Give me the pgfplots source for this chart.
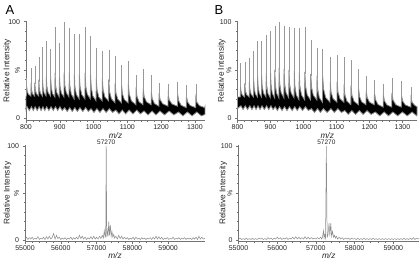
\documentclass[border=0pt]{standalone}
\usepackage{fontspec}
\setmainfont{Liberation Sans}
\usepackage{graphicx}
\usepackage{pgfplots}
\pgfplotsset{compat=1.18}
\pgfplotsset{
  msax/.style={
    scale only axis, anchor=south west,
    axis lines=left,
    axis line style={-, black!55, line width=0.5pt},
    tick align=outside,
    major tick length=2.5pt, minor tick length=1.4pt,
    every tick/.append style={black!55, line width=0.4pt},
    tick label style={font=\fontsize{7}{8}\selectfont, text=black!85},
    xticklabel style={inner sep=1.5pt},
    scaled ticks=false,
    /pgf/number format/assume math mode=true,
    /pgf/number format/1000 sep={},
    label style={font=\fontsize{8.3}{9}\selectfont, text=black!85},
    ytick={0,50,100}, yticklabels={0,{\rotatebox{90}{\%}},100},
    minor y tick num=4, minor x tick num=4,
    ymax=101,
    ylabel={Relative Intensity},
    xlabel={\textit{m/z}},
    xlabel style={at={(axis description cs:0.5,0)}, anchor=center, yshift=-14.5pt},
    clip=false,
  },
  band/.style={fill=black, draw=black!45, line width=0.8pt},
  spk/.style={black!40, line width=0.45pt, unbounded coords=jump},
  noise/.style={black!45, line width=0.5pt, sharp plot},
}
\begin{document}
\begin{tikzpicture}
\path[use as bounding box] (0pt,0pt) rectangle (420pt,262pt);
\node[font=\fontsize{13}{14}\selectfont] at (10pt,252pt) {A};
\node[font=\fontsize{13}{14}\selectfont] at (219pt,252pt) {B};

% ---------------- Top A ----------------
\begin{axis}[msax, at={(26pt,141.3pt)}, width=179pt, height=100pt,
  xmin=800, xmax=1330, ymin=-2.5, xtick={800,900,...,1300},
  ylabel style={at={(axis description cs:-0.1045,0.5)}, anchor=center}]
\addplot[band] coordinates {
(800,22) (801.5,24) (802,33) (803.6,28) (807.2,24.8)
(814.5,23) (815,36) (816.3,29.5) (819.4,25.3)
(825.5,23) (826,37) (827.4,30) (830.8,25.5)
(837.5,23) (838,40) (839.3,31.5) (842.4,26.1)
(848.5,23) (849,42) (850.3,32.5) (853.4,26.4)
(859.5,23) (860,44) (861.6,33.5) (865.2,26.8)
(872.5,23) (873,43) (874.6,32.5) (878.2,25.8)
(885.5,22) (886,47) (887.6,34.5) (891.2,26.5)
(898.5,22) (899,45) (900.7,33.5) (904.6,26.1)
(912.5,22) (913,48) (914.8,35) (919,26.7)
(927.5,22) (928,48) (929.8,34) (934,25)
(942.5,20) (943,46) (944.8,33) (949,24.7)
(957.5,20) (958,46) (960,33) (964.8,24.7)
(974.5,20) (975,47) (976.9,33.5) (981.4,24.9)
(990.5,20) (991,47) (993,32.5) (997.8,23.2)
(1007.5,18) (1008,42) (1010.2,30) (1015.2,22.3)
(1025.5,18) (1026,41) (1028.3,29.5) (1033.6,22.1)
(1044.5,18) (1045,40) (1047.3,28) (1052.6,20.3)
(1063.5,16) (1064,37) (1066.3,26.5) (1071.6,19.8)
(1082.5,16) (1083,35) (1085.4,25.5) (1091,19.4)
(1102.5,16) (1103,36) (1105.8,25) (1112.2,18)
(1125.5,14) (1126,32) (1128.5,23) (1134.4,17.2)
(1146.5,14) (1147,31) (1149.9,22.5) (1156.6,17.1)
(1170.5,14) (1171,28) (1173.8,20.3) (1180.2,15.3)
(1193.5,12.5) (1194,26) (1197.2,19.3) (1204.8,15)
(1220.5,12.5) (1221,25) (1224.4,18.8) (1232.2,14.8)
(1248.5,12.5) (1249,25) (1252.1,18) (1259.4,13.5)
(1274.5,11) (1275,23) (1278.4,17) (1286.2,13.2)
(1302.5,11) (1303,22) (1306.2,16.5) (1313.8,13)
(1329,11) (1330,12)
(1330,4) (1319.2,2.5) (1305.7,6.5) (1291.8,2.5) (1277.8,6.5) (1264.6,2.5) (1251.6,6.5) (1237.8,3.5) (1223.8,7.5) (1210.2,3.5)
(1196.7,7.5) (1184.8,3.5) (1173.3,7.5) (1161.4,3.5) (1149.4,7.5) (1138.6,4.5) (1128.1,8.5) (1116.8,4.5) (1105.3,8.5) (1095,4.5)
(1085,8.5) (1075.4,4.5) (1065.9,8.5) (1056.4,6) (1046.9,10) (1037.4,6) (1027.9,10) (1018.8,6) (1009.8,10) (1001.2,6)
(992.7,10) (984.6,7) (976.6,11) (968.2,7) (959.7,11) (952,7) (944.5,11) (937,7) (929.5,11) (922,7)
(914.5,11) (907.4,8) (900.4,12) (893.8,8) (887.3,12) (880.8,8) (874.3,12) (867.8,8) (861.3,12) (855.6,8)
(850.1,12) (844.6,8) (839.1,12) (833.2,8) (827.2,12) (821.6,8) (816.1,12) (809.8,8) (803.3,12) (800,9)} -- cycle;
\addplot[spk] coordinates {
(802,31) (802,42) (802,nan) (815,34) (815,52) (815,nan) (826,35) (826,54) (826,nan)
(838,38) (838,63) (838,nan) (849,40) (849,74) (849,nan) (860,42) (860,80) (860,nan)
(873,41) (873,72) (873,nan) (886,45) (886,94) (886,nan) (899,43) (899,78) (899,nan)
(913,46) (913,100) (913,nan) (928,46) (928,93) (928,nan) (943,44) (943,87) (943,nan)
(958,44) (958,87) (958,nan) (975,45) (975,94) (975,nan) (991,45) (991,85) (991,nan)
(1008,40) (1008,73) (1008,nan) (1026,39) (1026,70) (1026,nan) (1045,38) (1045,71) (1045,nan)
(1064,35) (1064,64) (1064,nan) (1083,33) (1083,55) (1083,nan) (1103,34) (1103,59) (1103,nan)
(1126,30) (1126,45) (1126,nan) (1147,29) (1147,51) (1147,nan) (1171,26) (1171,45) (1171,nan)
(1194,24) (1194,37) (1194,nan) (1221,23) (1221,35) (1221,nan) (1249,23) (1249,38) (1249,nan)
(1275,21) (1275,34) (1275,nan) (1303,20) (1303,35)};
\end{axis}

% ---------------- Top B ----------------
\begin{axis}[msax, at={(237.5pt,141.3pt)}, width=179.5pt, height=100pt,
  xmin=800, xmax=1344, ymin=-2.5, xtick={800,900,...,1300},
  ylabel style={at={(axis description cs:-0.088,0.5)}, anchor=center}]
\addplot[band] coordinates {
(800,22) (808.5,22) (809,34) (810.6,28) (814.2,24.2)
(821.5,22) (822,36) (823.7,29) (827.6,24.5)
(835.5,22) (836,38) (837.6,30) (841.2,24.9)
(848.5,22) (849,41) (850.4,31.5) (853.8,25.4)
(860.5,22) (861,44) (862.4,33) (865.8,26)
(872.5,22) (873,45) (874.7,33.5) (878.6,26.1)
(886.5,22) (887,47) (888.6,34) (892.2,25.7)
(899.5,21) (900,49) (901.6,35) (905.2,26)
(912.5,21) (913,50) (914.6,35.5) (918.2,26.2)
(925.5,21) (926,52) (927.8,36.5) (932,26.6)
(940.5,21) (941,51) (942.8,36) (947,26.4)
(955.5,21) (956,50) (957.9,35.5) (962.4,26.2)
(971.5,21) (972,49) (973.8,34) (978,24.4)
(986.5,19) (987,48) (989,33.5) (993.8,24.2)
(1003.5,19) (1004,48) (1006.2,33.5) (1011.2,24.2)
(1021.5,19) (1022,46) (1024.3,32.5) (1029.6,23.9)
(1040.5,19) (1041,44) (1043,30.3) (1047.8,21.5)
(1057.5,16.5) (1058,44) (1060.8,30.3) (1067.2,21.5)
(1080.5,16.5) (1081,38) (1083.5,27.3) (1089.4,20.4)
(1101.5,16.5) (1102,38) (1104.5,27.3) (1110.4,20.4)
(1122.5,16.5) (1123,35) (1125.5,24.5) (1131.4,17.8)
(1143.5,14) (1144,34) (1146.8,24) (1153.2,17.6)
(1166.5,14) (1167,31) (1169.8,22.5) (1176.2,17.1)
(1189.5,14) (1190,29) (1193,21.5) (1200,16.7)
(1214.5,14) (1215,27) (1218.2,19.3) (1225.8,14.3)
(1241.5,11.5) (1242,25) (1245.1,18.3) (1252.4,14)
(1267.5,11.5) (1268,26) (1271.5,18.8) (1279.6,14.1)
(1296.5,11.5) (1297,24) (1300.5,17.8) (1308.6,13.8)
(1325.5,11.5) (1326,21) (1329.5,16.3) (1337.6,13.2)
(1344,12)
(1344,3) (1343.4,2.5) (1328.9,6.5) (1314.4,2.5) (1299.9,6.5) (1285.4,2.5) (1270.9,6.5) (1257.6,2.5) (1244.6,6.5) (1231.2,2.5)
(1217.7,6.5) (1205,4) (1192.5,8) (1180.8,4) (1169.3,8) (1157.8,4) (1146.3,8) (1135.6,4) (1125.1,8) (1114.6,6)
(1104.1,10) (1093.6,6) (1083.1,10) (1071.8,6) (1060.3,10) (1051.2,6) (1042.7,10) (1033.4,6) (1023.9,10) (1014.8,8)
(1005.8,12) (997.2,8) (988.7,12) (981,8) (973.5,12) (965.6,8) (957.6,12) (950,8) (942.5,12) (935,8)
(927.5,12) (920.8,8) (914.3,12) (907.8,9) (901.3,13) (894.8,9) (888.3,13) (881.4,9) (874.4,13) (868.2,9)
(862.2,13) (856.2,9) (850.2,13) (843.8,9) (837.3,13) (830.4,9) (823.4,13) (816.8,9) (810.3,13) (800,10)} -- cycle;
\addplot[spk] coordinates {
(809,32) (809,57) (809,nan) (822,34) (822,58) (822,nan) (836,36) (836,62) (836,nan)
(849,39) (849,70) (849,nan) (861,42) (861,79.5) (861,nan) (873,43) (873,79.5) (873,nan)
(887,45) (887,86) (887,nan) (900,47) (900,90.5) (900,nan) (913,48) (913,96) (913,nan)
(926,50) (926,100) (926,nan) (941,49) (941,96) (941,nan) (956,48) (956,94) (956,nan)
(972,47) (972,93) (972,nan) (987,46) (987,93) (987,nan) (1004,46) (1004,94) (1004,nan)
(1022,44) (1022,81) (1022,nan) (1041,42) (1041,72.5) (1041,nan) (1058,42) (1058,72) (1058,nan)
(1081,36) (1081,63) (1081,nan) (1102,36) (1102,66) (1102,nan) (1123,33) (1123,63) (1123,nan)
(1144,32) (1144,60) (1144,nan) (1167,29) (1167,51) (1167,nan) (1190,27) (1190,44) (1190,nan)
(1215,25) (1215,40) (1215,nan) (1242,23) (1242,35) (1242,nan) (1268,24) (1268,42) (1268,nan)
(1297,22) (1297,39) (1297,nan) (1326,19) (1326,32)};
\end{axis}

% ---------------- Bottom A ----------------
\begin{axis}[msax, at={(25pt,20.6pt)}, width=180pt, height=96.3pt,
  xmin=55000, xmax=60030, ymin=-1.5, xtick={55000,56000,...,59000},
  ylabel style={at={(axis description cs:-0.098,0.5)}, anchor=center}]
\addplot[noise] coordinates {
(55000,1) (55040,3) (55080,0.5) (55120,2.5) (55160,1) (55200,3) (55240,0.5) (55280,2) (55320,1) (55360,3.5)
(55400,0.5) (55440,2) (55480,1) (55520,3) (55560,0.5) (55600,3.5) (55640,1) (55680,4) (55720,1) (55760,2.5)
(55800,7) (55840,1) (55880,5) (55920,1.5) (55960,3) (56000,0.5) (56040,2) (56080,1) (56120,2.5) (56160,0.5)
(56200,2) (56240,1) (56280,3) (56320,0.5) (56360,2.5) (56400,1) (56440,3) (56480,1) (56520,5) (56560,1.5)
(56600,4) (56640,1) (56680,3) (56720,0.5) (56760,2.5) (56800,1) (56840,3.5) (56880,1) (56920,4) (56960,1)
(57000,3) (57040,1) (57080,4) (57120,1.5) (57160,5) (57190,2) (57215,10) (57240,3) (57255,5) (57270,100)
(57285,3) (57300,10) (57320,4) (57340,19.5) (57362,5) (57385,16) (57408,4) (57430,9) (57455,3) (57480,6)
(57505,2) (57540,4) (57580,1) (57620,5) (57660,1.5) (57700,4) (57740,1) (57780,3) (57820,1) (57860,2.5)
(57900,0.5) (57940,2) (57980,1) (58020,3) (58060,0.5) (58100,3) (58140,1) (58180,2) (58220,0.5) (58260,2.5)
(58300,1) (58340,2) (58380,0.5) (58420,2) (58460,1) (58500,2.5) (58540,0.5) (58580,3) (58620,1) (58660,4)
(58700,1) (58740,3.5) (58780,1) (58820,3) (58860,0.5) (58900,2) (58940,1) (58980,2.5) (59020,0.5) (59060,2)
(59100,1) (59140,3) (59180,0.5) (59220,2) (59260,1) (59300,2.5) (59340,0.5) (59380,2) (59420,1) (59460,2.5)
(59500,0.5) (59540,2) (59580,1) (59620,2) (59660,0.5) (59700,2.5) (59740,1) (59780,3) (59820,0.5) (59860,4)
(59900,1) (59940,3) (59980,1) (60030,2)};
\node[font=\fontsize{6.5}{7}\selectfont, text=black!85, anchor=south, inner sep=0.8pt] at (axis cs:57270,100) {57270};
\end{axis}

% ---------------- Bottom B ----------------
\begin{axis}[msax, at={(238.5pt,20.6pt)}, width=180.5pt, height=96.3pt,
  xmin=55000, xmax=59664, ymin=-1.5, xtick={55000,56000,...,59000},
  ylabel style={at={(axis description cs:-0.084,0.5)}, anchor=center}]
\addplot[noise] coordinates {
(55000,1) (55040,2) (55080,0.5) (55120,1.5) (55160,0.5) (55200,2) (55240,0.5) (55280,1.5) (55320,0.5) (55360,2)
(55400,0.5) (55440,1.5) (55480,0.5) (55520,2) (55560,1) (55600,2) (55640,0.5) (55680,1.5) (55720,0.5) (55760,2.5)
(55800,1) (55840,2) (55880,0.5) (55920,2) (55960,1) (56000,3) (56040,1) (56080,2.5) (56120,0.5) (56160,2)
(56200,1) (56240,2.5) (56280,0.5) (56320,2) (56360,1) (56400,3) (56440,1) (56480,3.5) (56520,1) (56560,3)
(56600,1) (56640,2.5) (56680,1) (56720,3.5) (56760,1) (56800,3) (56840,1) (56880,2.5) (56920,1) (56960,2)
(57000,1) (57040,2.5) (57080,1) (57120,3) (57150,1) (57170,3) (57195,10) (57210,2) (57230,6) (57250,2)
(57270,100) (57290,3) (57310,5) (57340,18) (57360,4) (57385,18) (57405,4) (57430,9) (57455,3) (57480,5)
(57505,2) (57530,4) (57560,1) (57600,3) (57640,1) (57680,2.5) (57720,0.5) (57760,2) (57800,1) (57840,2)
(57880,0.5) (57920,2) (57960,1) (58000,1.5) (58040,0.5) (58080,2) (58120,0.5) (58160,1.5) (58200,0.5) (58240,2)
(58280,0.5) (58320,1.5) (58360,0.5) (58400,1.5) (58440,0.5) (58480,2) (58520,0.5) (58560,1.5) (58600,0.5) (58640,1.5)
(58680,0.5) (58720,1.5) (58760,0.5) (58800,1.5) (58840,0.5) (58880,1.5) (58920,0.5) (58960,1.5) (59000,0.5) (59040,1.5)
(59080,0.5) (59120,1.5) (59160,0.5) (59200,1.5) (59240,0.5) (59280,2) (59320,0.5) (59360,1.5) (59400,0.5) (59440,2)
(59480,0.5) (59520,2.5) (59560,0.5) (59600,2) (59640,1) (59664,2)};
\node[font=\fontsize{6.5}{7}\selectfont, text=black!85, anchor=south, inner sep=0.8pt] at (axis cs:57270,100) {57270};
\end{axis}
\end{tikzpicture}
\end{document}
